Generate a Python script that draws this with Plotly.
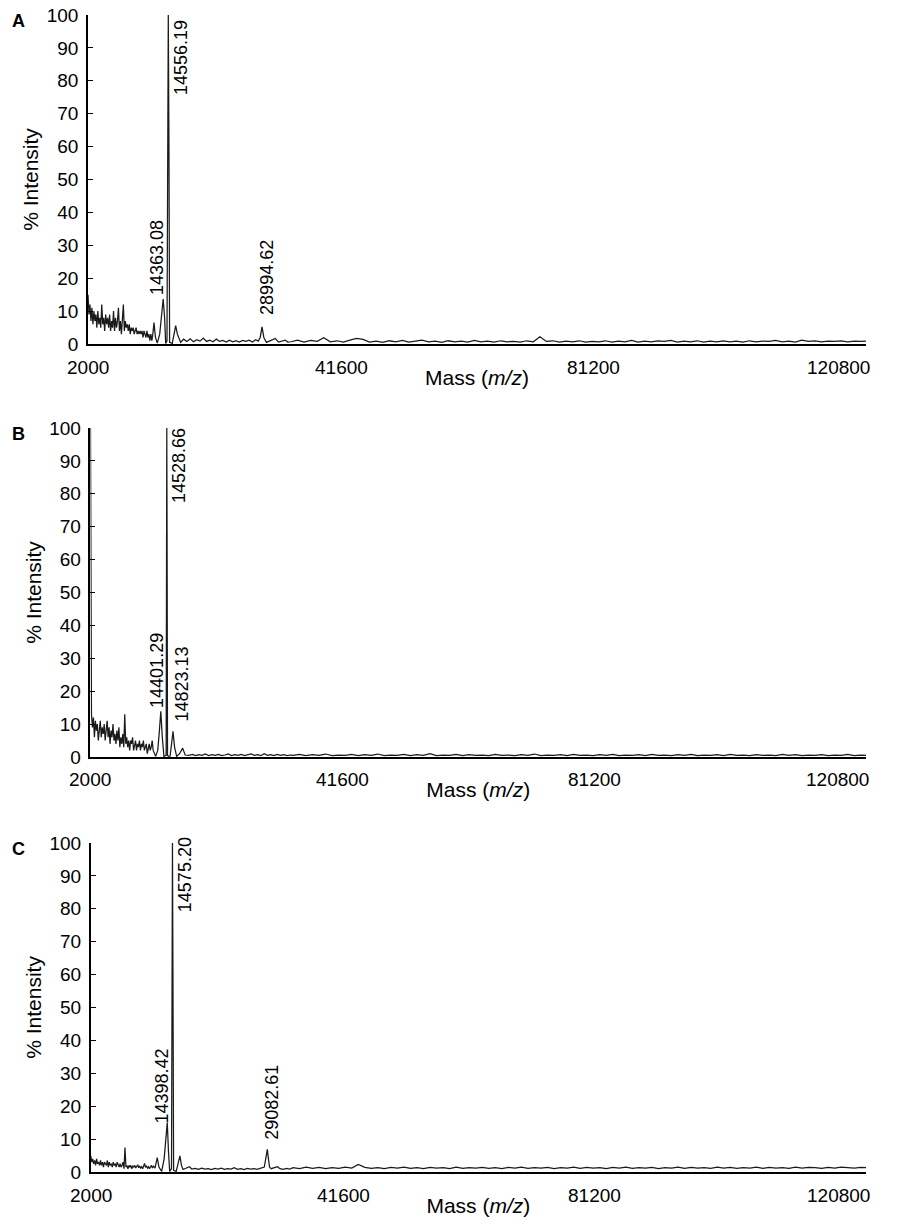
import plotly.graph_objects as go

# ---------------- data ----------------
X_TICKS = [2000, 41600, 81200, 120800]
Y_TICKS = [0, 10, 20, 30, 40, 50, 60, 70, 80, 90, 100]

LOW_MASS = [2000, 2150, 2300, 2450, 2600, 2750, 2900, 3050, 3200, 3350,
            3500, 3650, 3800, 3950, 4100, 4250, 4400, 4550, 4700, 4850,
            5000, 5150, 5300, 5450, 5600, 5750, 5900, 6050, 6200, 6350,
            6500, 6650, 6800, 6950, 7100, 7250, 7400, 7550, 7700, 7850,
            8000, 8150, 8300, 8450, 8600, 8750, 8900, 9050, 9200, 9350,
            9500, 9650, 9800, 9950, 10100, 10250, 10400, 10550, 10700, 10850,
            11000, 11150, 11300, 11450, 11600]

TAIL_MASS = [33000, 34000, 35000, 36000, 37000, 38000, 39000, 40000, 41000, 42000,
             43000, 44000, 45000, 46000, 47000, 48000, 49000, 50000, 51000, 52000,
             53000, 54000, 55000, 56000, 57000, 58000, 59000, 60000, 61000, 62000,
             63000, 64000, 65000, 66000, 67000, 68000, 69000, 70000, 71000, 72000,
             73000, 74000, 75000, 76000, 77000, 78000, 79000, 80000, 81000, 82000,
             83000, 84000, 85000, 86000, 87000, 88000, 89000, 90000, 91000, 92000,
             93000, 94000, 95000, 96000, 97000, 98000, 99000, 100000, 101000, 102000,
             103000, 104000, 105000, 106000, 107000, 108000, 109000, 110000, 111000, 112000,
             113000, 114000, 115000, 116000, 117000, 118000, 119000, 120000, 120800]

# Panel A
A_LOW = [15, 9, 12, 7, 11, 6, 10, 7, 9, 5,
         10, 6, 8, 5, 12, 6, 8, 4, 9, 6,
         8, 5, 9, 4, 7, 5, 10, 4, 8, 5,
         7, 11, 4, 7, 3, 8, 12, 4, 7, 5,
         6, 4, 6, 3, 5, 4, 5, 3, 4, 5,
         3, 4, 3, 4, 3, 4, 2, 4, 3, 2,
         4, 2, 3, 1, 3]
A_MID_MASS = [11750, 11900, 12080, 12300, 12580, 12950, 13250, 13480, 13700, 13860,
              14060, 14160, 14260, 14360, 14460, 14870, 15150, 15390, 15650, 16150,
              16600, 17100, 17600, 18100, 18600, 19100, 19600, 20100, 20600, 21100,
              21600, 22100, 22600, 23100, 23600, 24100, 24600, 25100, 25600, 26100,
              26600, 27100, 27600, 28000, 28300, 28570, 28850, 29250, 29600, 30000,
              30600, 31100, 31600, 32100, 32500]
A_MID_INT = [1.0, 3.0, 6.5, 2.0, 0.3, 3.0, 9.0, 13.7, 8.0, 0.2,
             1.0, 60, 100, 60, 0.5, 0.2, 3.0, 5.6, 3.0, 0.5,
             1.5, 0.8, 1.6, 0.7, 1.3, 0.9, 1.8, 0.8, 1.2, 0.7,
             1.5, 0.8, 1.1, 0.6, 1.2, 0.7, 1.0, 0.6, 1.1, 0.8,
             1.2, 0.6, 1.3, 0.9, 2.0, 5.2, 2.0, 0.5, 0.8, 1.2,
             1.7, 0.6, 0.9, 1.2, 0.6]
A_TAIL = [0.7, 1.2, 0.6, 1.1, 0.8, 1.9, 0.7, 1.0, 0.6, 1.2,
          1.7, 1.4, 0.6, 0.9, 0.5, 1.0, 0.7, 1.1, 0.6, 0.9,
          1.2, 0.7, 0.9, 0.5, 1.0, 0.7, 0.9, 0.6, 1.1, 0.7,
          0.9, 0.6, 1.0, 0.7, 0.8, 0.6, 1.0, 0.7, 2.2, 0.8,
          1.0, 0.6, 0.9, 0.7, 1.0, 0.6, 0.8, 0.7, 1.0, 0.6,
          0.9, 0.7, 1.1, 0.6, 0.9, 0.7, 1.0, 0.8, 1.1, 0.6,
          0.9, 0.7, 1.0, 0.6, 0.9, 0.7, 1.0, 0.7, 0.9, 0.6,
          1.0, 0.7, 0.9, 0.8, 1.1, 0.7, 0.9, 0.6, 1.2, 0.8,
          1.0, 0.7, 0.9, 0.8, 1.0, 0.7, 0.9, 0.8, 0.9]
A_LABEL_TEXT = ["14556.19", "14363.08", "28994.62"]
A_LABEL_MASS = [14260, 13480, 28570]

# Panel B
B_LOW = [100, 13, 9, 12, 6, 11, 8, 10, 5, 9,
         11, 6, 9, 7, 10, 5, 8, 11, 6, 9,
         4, 8, 6, 10, 5, 7, 4, 8, 5, 9,
         3, 6, 4, 7, 3, 13, 4, 6, 3, 5,
         2, 5, 4, 6, 2, 4, 5, 2, 4, 3,
         5, 2, 4, 3, 5, 2, 3, 4, 1, 3,
         4, 2, 3, 5, 2]
B_MID_MASS = [11990, 12300, 12560, 12770, 13000, 13250, 13590, 13640, 13690, 13740,
              13800, 14000, 14200, 14440, 14640, 14880, 15200, 15650, 16120, 16500,
              17100, 17600, 18100, 18600, 19100, 19600, 20100, 20600, 21100, 21600,
              22100, 22600, 23100, 23600, 24100, 24600, 25100, 25600, 26100, 26600,
              27100, 27600, 28100, 28600, 29100, 29600, 30100, 30600, 31100, 31600,
              32100, 32600]
B_MID_INT = [0.2, 2.0, 8.0, 13.9, 6.0, 0.2, 0.5, 60, 100, 60,
             0.4, 0.2, 0.3, 4.0, 7.8, 3.0, 0.2, 1.0, 2.7, 0.6,
             0.5, 0.8, 0.4, 0.7, 0.5, 0.9, 0.4, 0.7, 0.5, 0.8,
             0.4, 0.6, 0.9, 0.4, 0.7, 0.5, 0.8, 0.4, 0.6, 0.9,
             0.5, 0.7, 0.4, 1.0, 0.5, 0.7, 0.4, 0.8, 0.5, 0.7,
             0.4, 0.6]
B_TAIL = [0.5, 0.8, 0.4, 0.7, 0.5, 0.9, 0.4, 0.6, 0.5, 0.8,
          0.4, 0.7, 0.5, 0.9, 0.4, 0.6, 0.5, 0.8, 0.4, 0.7,
          0.5, 1.0, 0.4, 0.6, 0.5, 0.8, 0.4, 0.7, 0.5, 0.6,
          0.4, 0.8, 0.5, 0.6, 0.4, 0.7, 0.5, 0.9, 0.4, 0.6,
          0.5, 0.7, 0.4, 0.8, 0.5, 0.6, 0.4, 0.7, 0.5, 0.8,
          0.4, 0.6, 0.5, 0.7, 0.4, 0.8, 0.5, 0.6, 0.4, 0.7,
          0.5, 0.8, 0.4, 0.6, 0.5, 0.7, 0.4, 0.8, 0.5, 0.6,
          0.4, 0.7, 0.5, 0.6, 0.4, 0.8, 0.5, 0.7, 0.4, 0.6,
          0.5, 0.7, 0.4, 0.6, 0.5, 0.8, 0.4, 0.6, 0.5]
B_LABEL_TEXT = ["14528.66", "14401.29", "14823.13"]
B_LABEL_MASS = [13690, 12770, 14640]

# Panel C
C_LOW = [5, 3, 4, 2.5, 3.5, 2, 4, 2.5, 3, 2,
         3.5, 2, 3, 1.5, 3, 2.5, 2, 3.5, 1.5, 3,
         2, 2.5, 1.5, 3, 2, 2.5, 1.5, 3, 2, 1.5,
         2.5, 1.5, 2, 3, 1, 7.4, 1.5, 2, 1, 2,
         1.5, 2, 1, 1.8, 1.5, 2, 1.2, 1.6, 2.2, 1.3,
         1.8, 1.2, 1.6, 1, 1.8, 2.6, 1.4, 1.8, 1.2, 1.6,
         1, 1.5, 2, 1.2, 1.8]
C_MID_MASS = [11850, 12195, 12450, 12870, 13250, 13500, 13730, 13920, 14100, 14380,
              14450, 14525, 14600, 14700, 15100, 15420, 15670, 15900, 16150, 16400,
              16700, 17120, 17500, 18000, 18500, 19000, 19500, 20000, 20500, 21000,
              21500, 22000, 22500, 23000, 23500, 24000, 24500, 25000, 25500, 26000,
              26500, 27000, 27500, 28000, 28600, 28900, 29060, 29200, 29400, 29650,
              30000, 30610, 31000, 31500, 32000, 32500]
C_MID_INT = [1.2, 4.4, 1.5, 0.2, 4.0, 10, 15, 6.0, 0.2, 1.0,
             60, 100, 60, 0.5, 0.2, 3.0, 4.9, 2.0, 0.8, 1.0,
             1.2, 1.6, 0.9, 1.1, 0.8, 1.2, 0.9, 1.0, 0.7, 1.1,
             0.9, 1.2, 0.8, 1.0, 0.9, 1.3, 0.8, 1.0, 0.7, 1.1,
             0.9, 1.0, 0.8, 1.1, 1.5, 5.0, 6.9, 4.5, 1.5, 1.0,
             1.2, 1.6, 1.0, 0.8, 1.1, 0.9]
C_TAIL = [1.3, 1.0, 1.5, 1.1, 1.4, 1.0, 1.3, 1.1, 1.5, 1.2,
          2.3, 1.4, 1.1, 1.3, 1.0, 1.4, 1.2, 1.5, 1.1, 1.3,
          1.0, 1.4, 1.2, 1.3, 1.0, 1.5, 1.1, 1.3, 1.2, 1.4,
          1.1, 1.3, 1.0, 1.4, 1.2, 1.5, 1.1, 1.3, 1.2, 1.4,
          1.0, 1.3, 1.2, 1.5, 1.1, 1.4, 1.2, 1.3, 1.0, 1.4,
          1.2, 1.5, 1.1, 1.3, 1.2, 1.4, 1.0, 1.3, 1.2, 1.5,
          1.1, 1.4, 1.2, 1.3, 1.1, 1.5, 1.2, 1.4, 1.1, 1.3,
          1.2, 1.5, 1.1, 1.4, 1.2, 1.3, 1.1, 1.5, 1.2, 1.4,
          1.3, 1.1, 1.4, 1.2, 1.5, 1.3, 1.2, 1.4, 1.3]
C_LABEL_TEXT = ["14575.20", "14398.42", "29082.61"]
C_LABEL_MASS = [14525, 13730, 29060]

PANEL_LETTERS = ["A", "B", "C"]

# ---------------- figure ----------------
FONT = "Liberation Sans, Arial, Helvetica, sans-serif"
W, H = 901, 1228
M = dict(l=88, r=35, t=15, b=56)

panels = [
    (LOW_MASS + A_MID_MASS + TAIL_MASS, A_LOW + A_MID_INT + A_TAIL, A_LABEL_TEXT, A_LABEL_MASS),
    (LOW_MASS + B_MID_MASS + TAIL_MASS, B_LOW + B_MID_INT + B_TAIL, B_LABEL_TEXT, B_LABEL_MASS),
    (LOW_MASS + C_MID_MASS + TAIL_MASS, C_LOW + C_MID_INT + C_TAIL, C_LABEL_TEXT, C_LABEL_MASS),
]
y_domains = [[0.7156, 1.0], [0.3587, 0.6430], [0.0, 0.2844]]
x_domains = [[0.0, 1.0], [0.0032, 1.0], [0.0035, 1.0]]
# peak-label placement (pixel shift from peak, bottom of text in % units)
label_style = [
    [(12, 75), (-6, 14.2), (5, 8.1)],
    [(12, 76.7), (-4, 14.4), (9, 10.3)],
    [(12.5, 78.5), (-5.6, 14.2), (4, 9.1)],
]
# x tick labels: alignment drifts from centred (left) to right-aligned (right)
xtick_shift = [0, -6, -13, -28]

fig = go.Figure()
annotations = []
for i, (mass, inten, ltxt, lmass) in enumerate(panels):
    sfx = "" if i == 0 else str(i + 1)
    fig.add_trace(go.Scatter(
        x=mass, y=inten, mode="lines",
        line=dict(color="#1a1a1a", width=1.25),
        xaxis="x" + sfx, yaxis="y" + sfx, showlegend=False, hoverinfo="skip"))
    fig.layout["xaxis" + sfx] = dict(
        domain=x_domains[i], anchor="y" + sfx, range=[2000, 120800], automargin=False,
        tickvals=X_TICKS, showticklabels=False,
        ticks="", showline=True, linecolor="black", linewidth=1.6,
        showgrid=False, zeroline=False,
        title=dict(text="Mass (<i>m/z</i>)", standoff=25,
                   font=dict(family=FONT, size=21, color="black")))
    fig.layout["yaxis" + sfx] = dict(
        domain=y_domains[i], anchor="x" + sfx, range=[0, 100], automargin=False,
        tickvals=Y_TICKS, ticks="inside", ticklen=5, tickwidth=1.2, tickcolor="black",
        showline=True, linecolor="black", linewidth=1.6,
        showgrid=False, zeroline=False, ticklabelstandoff=4,
        tickfont=dict(family=FONT, size=19, color="black"),
        title=dict(text="% Intensity", standoff=2,
                   font=dict(family=FONT, size=21, color="black")))
    for tv, sh in zip(X_TICKS, xtick_shift):
        annotations.append(dict(
            x=tv, y=0, xref="x" + sfx, yref="y" + sfx + " domain", text=str(tv),
            showarrow=False, xanchor="center", yanchor="middle", xshift=sh, yshift=-23,
            font=dict(family=FONT, size=19, color="black")))
    for t, m, (dx, yb) in zip(ltxt, lmass, label_style[i]):
        annotations.append(dict(
            x=m, y=yb, xref="x" + sfx, yref="y" + sfx, text=t, textangle=-90,
            showarrow=False, xanchor="center", yanchor="bottom", xshift=dx,
            font=dict(family=FONT, size=18, color="black")))
    annotations.append(dict(
        x=-0.0893, y=1, xref="paper", yref="y" + sfx + " domain", text="<b>%s</b>" % PANEL_LETTERS[i],
        showarrow=False, xanchor="center", yanchor="top", yshift=6,
        font=dict(family=FONT, size=18, color="black")))

fig.update_layout(
    width=W, height=H, margin=M, paper_bgcolor="white", plot_bgcolor="white",
    annotations=annotations, showlegend=False)

fig.write_html("out.html", config={"displayModeBar": False},
               post_script="document.body.style.margin='0px';")
